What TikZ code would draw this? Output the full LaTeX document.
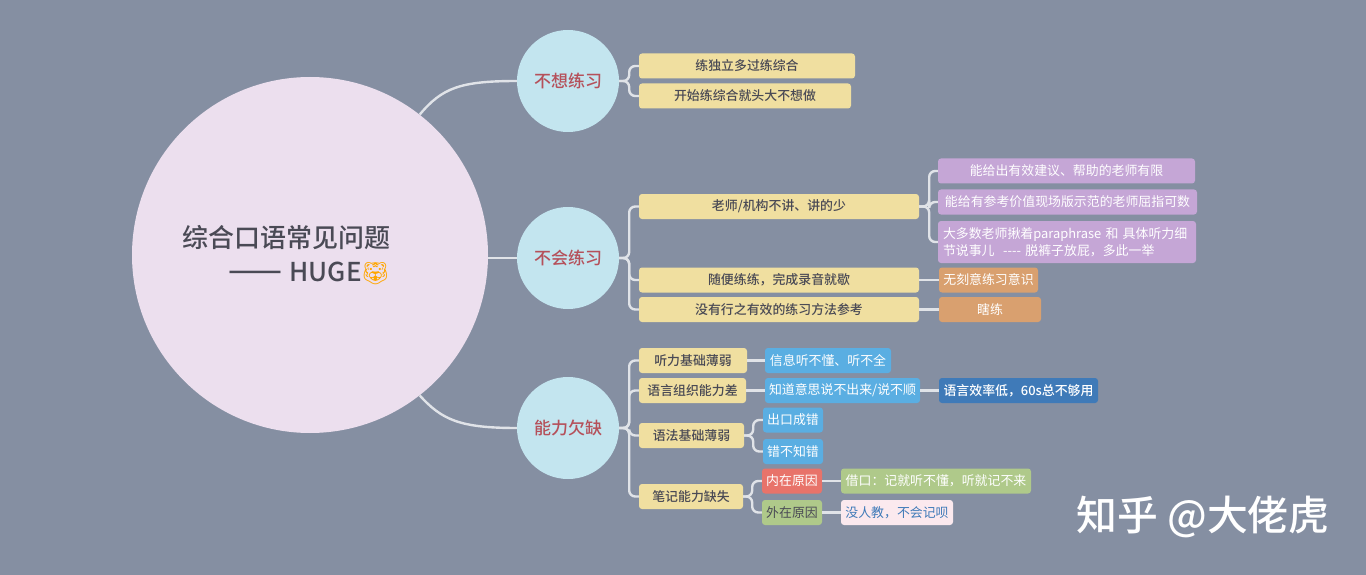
\documentclass[tikz,border=0pt]{standalone}
\usepackage{fontspec}
\setmainfont{Noto Sans CJK SC}
\newfontfamily\medfont{Noto Sans CJK SC Medium}
\newfontfamily\emojifont{Noto Emoji}
\definecolor{bgc}{HTML}{858FA2}
\definecolor{rootc}{HTML}{ECDFEE}
\definecolor{circc}{HTML}{C3E5EF}
\definecolor{yelc}{HTML}{F0DFA0}
\definecolor{purc}{HTML}{C5A6D6}
\definecolor{orac}{HTML}{D9A06F}
\definecolor{bluc}{HTML}{5AAEE2}
\definecolor{dblc}{HTML}{3F7AB8}
\definecolor{redc}{HTML}{E8736A}
\definecolor{grnc}{HTML}{AFC98A}
\definecolor{pnkc}{HTML}{FBE9EE}
\definecolor{inkc}{HTML}{4A4A55}
\definecolor{topc}{HTML}{B5505A}
\begin{document}
\begin{tikzpicture}[x=1pt, y=-1pt,
    boxn/.style={rectangle, rounded corners=3pt, inner sep=0pt, minimum height=25pt, font=\fontsize{12.9}{17}\selectfont},
    yel/.style={boxn, fill=yelc, text=inkc, font=\fontsize{12.9}{17}\medfont},
    pur/.style={boxn, fill=purc, text=white},
    ora/.style={boxn, fill=orac, text=white},
    blu/.style={boxn, fill=bluc, text=white},
    dbl/.style={boxn, fill=dblc, text=white},
    red/.style={boxn, fill=redc, text=white},
    grn/.style={boxn, fill=grnc, text=inkc},
    pnk/.style={boxn, fill=pnkc, text=dblc},
    topic/.style={circle, fill=circc, text=topc, inner sep=0pt, minimum size=102pt, font=\fontsize{17}{20}\medfont},
    link/.style={draw=white!75!bgc, line width=2.4pt, rounded corners=6pt}]
    \fill[bgc] (0,0) rectangle (1366,575);

    \node[circle, fill=rootc, inner sep=0pt, minimum size=356pt] (root) at (310,255) {};
    \node[text=inkc, align=right, inner sep=0pt, font=\fontsize{26}{34}\medfont] (title) at (286,255.5)
      {综合口语常见问题\\{\fontsize{32}{34}\selectfont ——}\hspace{7pt}HUGE\hspace{-1pt}{\fontsize{23}{34}\emojifont\color{orange!70!yellow}🐯}};

    \node[topic] (t1) at (568,81) {不想练习};
    \node[topic] (t2) at (568,258) {不会练习};
    \node[topic] (t3) at (568,428) {能力欠缺};

    \node[yel, minimum width=216pt] (a1) at (747,66) {练独立多过练综合};
    \node[yel, minimum width=212pt] (a2) at (745,96) {开始练综合就头大不想做};

    \node[yel, minimum width=280pt] (b1) at (779,206.5) {老师/机构不讲、讲的少};
    \node[yel, minimum width=280pt] (b2) at (779,280) {随便练练，完成录音就歇};
    \node[yel, minimum width=280pt] (b3) at (779,309.5) {没有行之有效的练习方法参考};
    \node[pur, minimum width=257pt] (p1) at (1066.5,171) {能给出有效建议、帮助的老师有限};
    \node[pur, minimum width=259pt] (p2) at (1067.5,202) {能给有参考价值现场版示范的老师屈指可数};
    \node[pur, minimum width=258pt, minimum height=42pt, text width=248pt, align=left] (p3) at (1067,242)
      {大多数老师揪着paraphrase 和 具体听力细\\节说事儿 ~-{}-{}-{}- 脱裤子放屁，多此一举};
    \node[ora, minimum width=99pt] (o1) at (988.5,280) {无刻意练习意识};
    \node[ora, minimum width=102pt] (o2) at (990,309.5) {瞎练};

    \node[yel, minimum width=108pt] (c1) at (693,360.5) {听力基础薄弱};
    \node[yel, minimum width=107pt] (c2) at (692.5,390.5) {语言组织能力差};
    \node[yel, minimum width=105pt] (c3) at (691.5,435.5) {语法基础薄弱};
    \node[yel, minimum width=104pt] (c4) at (691,496.5) {笔记能力缺失};
    \node[blu, minimum width=126pt] (d1) at (828,360.5) {信息听不懂、听不全};
    \node[blu, minimum width=155pt] (d2) at (842.5,390.5) {知道意思说不出来/说不顺};
    \node[dbl, minimum width=159pt] (d3) at (1018.5,390.5) {\medfont 语言效率低，60s总不够用};
    \node[blu, minimum width=60pt] (e1) at (793,420) {出口成错};
    \node[blu, minimum width=60pt] (e2) at (793,451.5) {错不知错};
    \node[red, minimum width=60pt] (f1) at (792,481) {内在原因};
    \node[grn, minimum width=60pt] (f2) at (792,512.5) {外在原因};
    \node[grn, minimum width=190pt, text=white] (g1) at (936,481) {借口：记就听不懂，听就记不来};
    \node[pnk, minimum width=112pt] (g2) at (897,512.5) {没人教，不会记呗};

    \node[text=white, inner sep=0pt, font=\fontsize{40.8}{46}\medfont] (mark) at (1203,517) {知乎 @大佬虎};

    \draw[link] (root.52) .. controls (442,88) and (460,81) .. (t1.west);
    \draw[link] (root.east |- t2) -- (t2.west);
    \draw[link] (root.-52) .. controls (442,420) and (460,428) .. (t3.west);

    \draw[link] (t1.east) -- ++(10,0) |- (a1.west);
    \draw[link] (t1.east) -- ++(10,0) |- (a2.west);
    \draw[link] (t2.east) -- ++(10,0) |- (b1.west);
    \draw[link] (t2.east) -- ++(10,0) |- (b2.west);
    \draw[link] (t2.east) -- ++(10,0) |- (b3.west);
    \draw[link] (t3.east) -- ++(10,0) |- (c1.west);
    \draw[link] (t3.east) -- ++(10,0) |- (c2.west);
    \draw[link] (t3.east) -- ++(10,0) |- (c3.west);
    \draw[link] (t3.east) -- ++(10,0) |- (c4.west);

    \draw[link] (b1.east) -- ++(10,0) |- (p1.west);
    \draw[link] (b1.east) -- ++(10,0) |- (p2.west);
    \draw[link] (b1.east) -- ++(10,0) |- (p3.west);
    \draw[link] (b2) -- (o1);
    \draw[link] (b3) -- (o2);

    \draw[link] (c1) -- (d1);
    \draw[link] (c2) -- (d2) -- (d3);
    \draw[link] (c3.east) -- ++(9,0) |- (e1.west);
    \draw[link] (c3.east) -- ++(9,0) |- (e2.west);
    \draw[link] (c4.east) -- ++(9,0) |- (f1.west);
    \draw[link] (c4.east) -- ++(9,0) |- (f2.west);
    \draw[link] (f1) -- (g1);
    \draw[link] (f2) -- (g2);
  \end{tikzpicture}
\end{document}
